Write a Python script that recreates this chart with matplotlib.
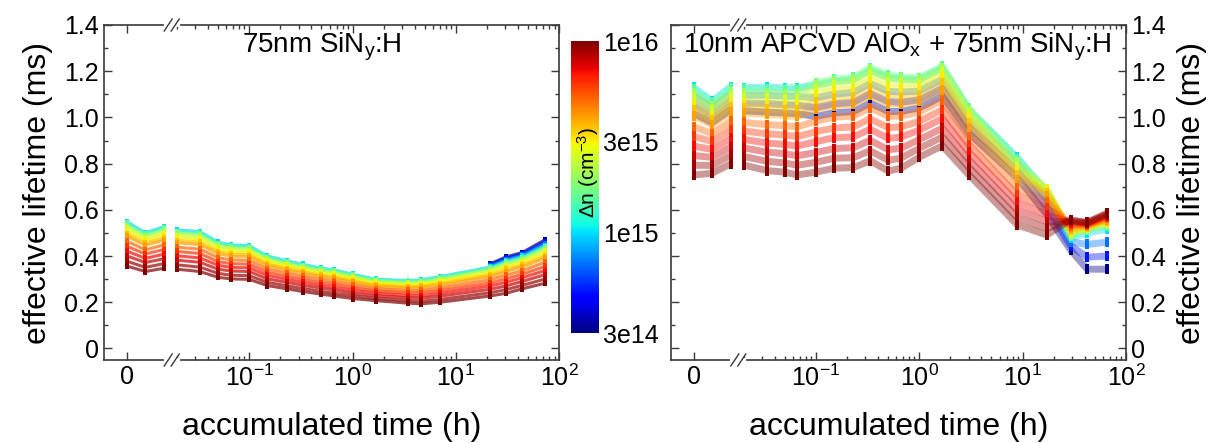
import numpy as np
import matplotlib

matplotlib.use("Agg")
import matplotlib.pyplot as plt
from matplotlib.colors import LogNorm
from matplotlib.ticker import FixedLocator, MultipleLocator, FuncFormatter, LogLocator, NullFormatter

plt.rcParams["font.family"] = ["Liberation Sans", "DejaVu Sans"]
plt.rcParams["mathtext.fontset"] = "custom"
plt.rcParams["mathtext.rm"] = "Liberation Sans"
plt.rcParams["mathtext.it"] = "Liberation Sans:italic"
plt.rcParams["mathtext.bf"] = "Liberation Sans:bold"

nan = float("nan")

# injection levels (cm^-3), one curve per level
dn_levels = [3e14, 5e14, 7e14, 1e15, 1.5e15, 2e15, 2.5e15, 3e15,
             3.5e15, 4e15, 5e15, 6e15, 7e15, 8e15, 9e15, 1e16]

# accumulated time (h); the first three points live on the linear stub left of the break
t_left_lin = [0, 0.005, 0.01]
t_left_log = [0.02, 0.0333, 0.05, 0.0667, 0.1, 0.15, 0.233, 0.333, 0.5, 0.667,
              1.0, 1.67, 3.42, 4.58, 7.0, 21.3, 30.8, 43.6, 72.4]
t_right_lin = [0, 0.005, 0.01]
t_right_log = [0.02, 0.0337, 0.05, 0.0664, 0.1, 0.15, 0.231, 0.335, 0.503, 0.667,
               1.0, 1.67, 3.03, 8.87, 17.1, 29.1, 42.1, 64.9]

# effective lifetime (ms): one row per time point, columns follow dn_levels
tau_left = [
    [nan, nan, nan, .549, .541, .532, .520, .509, .497, .486, .465, .443, .422, .401, .378, .357],
    [nan, nan, nan, .501, .494, .486, .476, .466, .456, .446, .427, .409, .390, .372, .351, .333],
    [nan, nan, nan, .527, .520, .511, .500, .489, .478, .468, .448, .428, .408, .388, .367, .347],
    [nan, nan, nan, .513, .506, .498, .488, .477, .467, .457, .438, .420, .401, .382, .362, .343],
    [nan, nan, nan, .506, .499, .490, .480, .470, .459, .449, .430, .411, .392, .373, .352, .333],
    [nan, nan, nan, .460, .454, .446, .437, .428, .419, .410, .393, .376, .360, .343, .325, .308],
    [nan, nan, nan, .448, .442, .435, .426, .417, .408, .399, .383, .367, .351, .335, .317, .301],
    [nan, nan, nan, .445, .439, .432, .423, .414, .406, .397, .381, .365, .349, .333, .315, .299],
    [nan, nan, nan, .400, .395, .388, .381, .373, .365, .358, .344, .330, .316, .301, .286, .272],
    [nan, nan, nan, .379, .374, .368, .361, .354, .346, .339, .326, .312, .299, .286, .271, .258],
    [nan, nan, nan, .364, .359, .353, .346, .339, .332, .325, .312, .299, .286, .273, .259, .246],
    [nan, nan, nan, .347, .343, .337, .330, .323, .317, .310, .298, .285, .273, .261, .247, .235],
    [nan, nan, nan, .340, .335, .330, .323, .316, .309, .303, .290, .278, .265, .253, .239, .227],
    [nan, nan, nan, .321, .317, .312, .305, .299, .293, .286, .275, .263, .252, .240, .228, .216],
    [nan, nan, nan, .300, .296, .292, .286, .280, .275, .269, .259, .249, .239, .228, .217, .207],
    [nan, nan, nan, .294, .290, .285, .279, .273, .268, .262, .251, .240, .229, .219, .207, .196],
    [nan, nan, nan, .297, .293, .288, .281, .275, .269, .263, .251, .240, .228, .217, .204, .193],
    [nan, nan, nan, .311, .307, .301, .294, .288, .281, .274, .262, .250, .238, .226, .212, .200],
    [.366, .361, .356, .352, .347, .341, .333, .326, .318, .311, .297, .283, .270, .256, .241, .227],
    [.397, .391, .385, .380, .374, .367, .359, .350, .342, .333, .318, .302, .287, .271, .255, .239],
    [.415, .409, .403, .398, .392, .385, .377, .369, .360, .352, .336, .321, .306, .290, .273, .258],
    [.470, .461, .453, .445, .438, .430, .421, .411, .401, .391, .373, .355, .337, .319, .300, .282],
]

tau_right = [
    [1.017, 1.055, 1.093, 1.131, 1.123, 1.104, 1.082, 1.055, 1.032, 1.006, .960, .918, .876, .835, .793, .751],
    [.977, 1.008, 1.040, 1.071, 1.065, 1.049, 1.030, 1.008, .990, .968, .930, .896, .861, .827, .792, .758],
    [1.033, 1.066, 1.100, 1.133, 1.126, 1.110, 1.090, 1.066, 1.046, 1.023, .983, .946, .909, .872, .836, .799],
    [1.029, 1.062, 1.096, 1.129, 1.122, 1.106, 1.085, 1.062, 1.042, 1.018, .978, .941, .905, .868, .831, .794],
    [1.023, 1.060, 1.096, 1.132, 1.125, 1.107, 1.085, 1.060, 1.038, 1.013, .969, .929, .889, .850, .810, .770],
    [1.019, 1.055, 1.092, 1.128, 1.121, 1.102, 1.081, 1.055, 1.033, 1.008, .964, .924, .883, .843, .803, .763],
    [1.016, 1.053, 1.091, 1.129, 1.121, 1.103, 1.080, 1.053, 1.031, 1.004, .959, .917, .876, .834, .793, .751],
    [1.004, 1.042, 1.085, 1.139, 1.151, 1.143, 1.124, 1.097, 1.066, 1.035, .984, .938, .895, .848, .806, .763],
    [1.020, 1.059, 1.101, 1.155, 1.167, 1.159, 1.140, 1.113, 1.082, 1.051, 1.001, .954, .912, .865, .823, .780],
    [1.025, 1.065, 1.108, 1.162, 1.174, 1.166, 1.147, 1.119, 1.088, 1.057, 1.006, .959, .916, .869, .826, .783],
    [1.062, 1.103, 1.147, 1.204, 1.216, 1.208, 1.188, 1.159, 1.127, 1.095, 1.042, .994, .949, .901, .856, .812],
    [1.026, 1.068, 1.113, 1.172, 1.184, 1.176, 1.155, 1.126, 1.092, 1.059, 1.005, .955, .909, .860, .814, .768],
    [1.026, 1.066, 1.110, 1.165, 1.177, 1.169, 1.149, 1.121, 1.090, 1.058, 1.006, .959, .915, .867, .824, .780],
    [1.041, 1.076, 1.114, 1.162, 1.172, 1.165, 1.148, 1.124, 1.096, 1.069, 1.024, .983, .945, .904, .866, .828],
    [1.092, 1.126, 1.164, 1.213, 1.223, 1.216, 1.199, 1.175, 1.147, 1.119, 1.074, 1.033, .995, .953, .915, .877],
    [.930, .959, .991, 1.031, 1.040, 1.034, 1.020, 1.000, .976, .953, .916, .881, .849, .815, .783, .751],
    [.740, .769, .799, .828, .822, .807, .790, .769, .752, .731, .696, .664, .632, .599, .567, .535],
    [.580, .615, .645, .670, .684, .690, .688, .682, .672, .660, .635, .607, .578, .549, .520, .491],
    [.426, .445, .462, .476, .485, .493, .500, .507, .514, .520, .530, .538, .545, .550, .554, .556],
    [.343, .395, .450, .500, .512, .517, .521, .524, .527, .530, .534, .537, .540, .542, .544, .546],
    [.343, .400, .460, .515, .530, .537, .543, .548, .553, .557, .563, .568, .573, .577, .581, .585],
]

cbar_ticks = [3e14, 1e15, 3e15, 1e16]
cbar_labels = ["3e14", "1e15", "3e15", "1e16"]
y_ticks = [0, 0.2, 0.4, 0.6, 0.8, 1.0, 1.2, 1.4]

W, H = 1213, 443
cmap = plt.get_cmap("jet")
norm = LogNorm(vmin=3e14, vmax=1e16)
SPINE = "#3a3a3a"
TICK_FS = 18
LABEL_FS = 23
# tall marker, so the points of one time step stack into a solid bar
BAR_MARKER = [(-0.5, -1), (0.5, -1), (0.5, 1), (-0.5, 1), (-0.5, -1)]


def px(x0, y0, w, h):
    """Axes rect from pixel box (top-left origin)."""
    return [x0 / W, 1 - (y0 + h) / H, w / W, h / H]


def style_axes(ax_lin, ax_log, labels_left):
    for ax in (ax_lin, ax_log):
        ax.set_ylim(-0.05, 1.4)
        ax.yaxis.set_major_locator(FixedLocator(y_ticks))
        ax.yaxis.set_minor_locator(MultipleLocator(0.1))
        ax.yaxis.set_major_formatter(FuncFormatter(lambda v, p: "0" if abs(v) < 1e-9 else f"{v:.1f}"))
        ax.tick_params(which="both", direction="in", top=True, color=SPINE, width=1.0,
                       labelsize=TICK_FS)
        ax.tick_params(which="major", length=6)
        ax.tick_params(which="minor", length=3)
        for s in ax.spines.values():
            s.set_color(SPINE)
            s.set_linewidth(1.2)

    ax_lin.set_xlim(-0.0061, 0.0121)
    ax_lin.xaxis.set_major_locator(FixedLocator([0]))
    ax_lin.xaxis.set_major_formatter(FuncFormatter(lambda v, p: "0"))
    ax_lin.spines["right"].set_visible(False)
    ax_lin.tick_params(axis="y", which="both", right=False, left=True, labelleft=labels_left)

    ax_log.set_xscale("log")
    ax_log.set_xlim(10 ** -1.75, 100)
    ax_log.xaxis.set_major_locator(FixedLocator([0.1, 1, 10, 100]))
    ax_log.xaxis.set_minor_locator(LogLocator(base=10, subs=np.arange(2, 10), numticks=20))
    ax_log.xaxis.set_minor_formatter(NullFormatter())
    ax_log.spines["left"].set_visible(False)
    ax_log.tick_params(axis="y", which="both", left=False, labelleft=False, right=True,
                       labelright=not labels_left)

    # "//" break marks on bottom and top spines
    fw, fh = ax_log.get_position().width * W, ax_log.get_position().height * H
    for yb in (0, 1):
        ax_log.plot([-6 / fw, 6 / fw], [yb, yb], transform=ax_log.transAxes, color="white",
                    lw=3, clip_on=False, zorder=5)
        for dx in (-3.5, 3.5):
            ax_log.plot([(dx - 4) / fw, (dx + 4) / fw], [yb - 6 / fh, yb + 6 / fh],
                        transform=ax_log.transAxes, color=SPINE, lw=1.0, clip_on=False, zorder=6)


def draw_curves(ax_lin, ax_log, t_lin, t_log, rows, lw, ms, alpha):
    tau = np.array(rows, dtype=float).T
    n_lin = len(t_lin)
    for k, dn in enumerate(dn_levels):
        c = cmap(norm(dn))
        for ax, t, y in ((ax_lin, t_lin, tau[k, :n_lin]), (ax_log, t_log, tau[k, n_lin:])):
            ax.plot(t, y, color=c, lw=lw, alpha=alpha, zorder=2, solid_capstyle="butt")
            ax.plot(t, y, ls="none", marker=BAR_MARKER, ms=ms, mew=0, color=c, zorder=3)


fig = plt.figure(figsize=(W / 100, H / 100), dpi=100)

axL_lin = fig.add_axes(px(104, 25, 67.7, 335))
axL_log = fig.add_axes(px(171.7, 25, 387.6, 335))
axR_lin = fig.add_axes(px(671, 25, 67.3, 335))
axR_log = fig.add_axes(px(738.3, 25, 387.7, 335))

draw_curves(axL_lin, axL_log, t_left_lin, t_left_log, tau_left, lw=2.2, ms=4.5, alpha=0.7)
draw_curves(axR_lin, axR_log, t_right_lin, t_right_log, tau_right, lw=5.0, ms=6.5, alpha=0.4)
style_axes(axL_lin, axL_log, labels_left=True)
style_axes(axR_lin, axR_log, labels_left=False)

axL_lin.set_ylabel("effective lifetime (ms)", fontsize=LABEL_FS, labelpad=8)
axR_log.yaxis.set_label_position("right")
axR_log.set_ylabel("effective lifetime (ms)", fontsize=LABEL_FS, labelpad=8)

fig.text(331.5 / W, 0.036, "accumulated time (h)", fontsize=LABEL_FS, ha="center", va="center")
fig.text(898.5 / W, 0.036, "accumulated time (h)", fontsize=LABEL_FS, ha="center", va="center")

fig.text(322 / W, 1 - 47 / H, r"75nm SiN$_\mathrm{y}$:H", fontsize=20, ha="center", va="center")
fig.text(897.5 / W, 1 - 47 / H, r"10nm APCVD AlO$_\mathrm{x}$ + 75nm SiN$_\mathrm{y}$:H",
         fontsize=20, ha="center", va="center")

cax = fig.add_axes(px(571.3, 41, 27.5, 292))
sm = plt.cm.ScalarMappable(norm=norm, cmap=cmap)
cb = fig.colorbar(sm, cax=cax)
cb.outline.set_visible(False)
cb.set_ticks(cbar_ticks)
cb.set_ticklabels(cbar_labels)
cb.minorticks_off()
cax.tick_params(length=0, labelsize=TICK_FS, pad=3)
cax.text(0.62, 0.55, r"$\Delta$n (cm$^{-3}$)", transform=cax.transAxes, rotation=90,
         ha="center", va="center", fontsize=15)

fig.savefig("out.png", dpi=100)
